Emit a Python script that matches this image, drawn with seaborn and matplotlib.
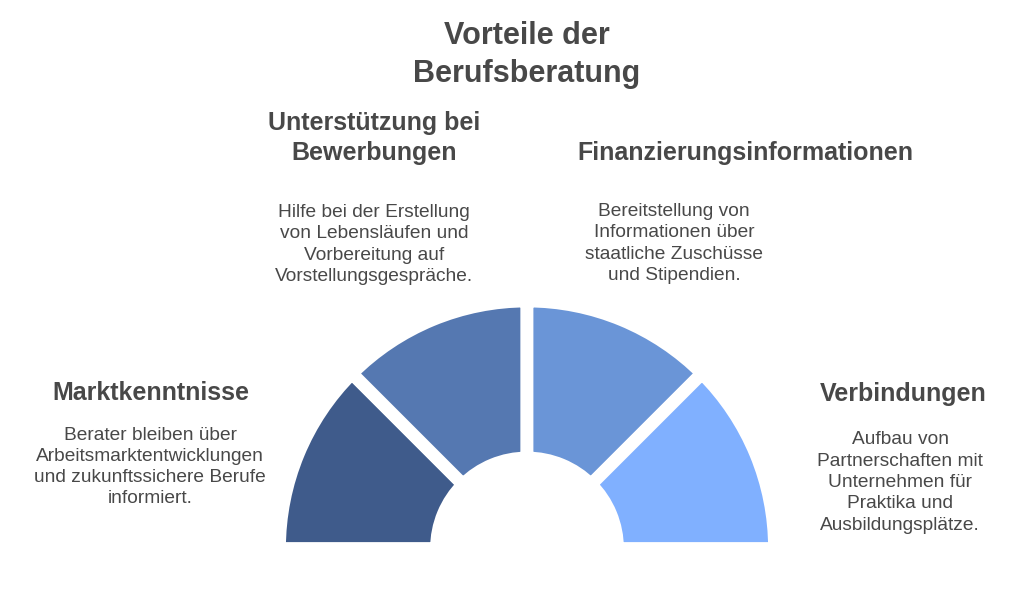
import matplotlib.pyplot as plt
import seaborn as sns

# data
segment_names = ["Marktkenntnisse", "Unterstützung bei\nBewerbungen",
                 "Finanzierungsinformationen", "Verbindungen"]
segment_shares = [1, 1, 1, 1]
segment_colors = ["#3f5b8b", "#5578b1", "#6a95d7", "#80b0ff"]
descriptions = [
    "Berater bleiben über\nArbeitsmarktentwicklungen\nund zukunftssichere Berufe\ninformiert.",
    "Hilfe bei der Erstellung\nvon Lebensläufen und\nVorbereitung auf\nVorstellungsgespräche.",
    "Bereitstellung von\nInformationen über\nstaatliche Zuschüsse\nund Stipendien.",
    "Aufbau von\nPartnerschaften mit\nUnternehmen für\nPraktika und\nAusbildungsplätze.",
]
title = "Vorteile der\nBerufsberatung"

sns.set_theme(style="white")
plt.rcParams["font.family"] = ["Liberation Sans", "DejaVu Sans"]
text_color = "#484848"

W, H = 1024, 603
fig = plt.figure(figsize=(W / 100, H / 100), dpi=100)
ax = fig.add_axes([0, 0, 1, 1])

# half donut: four visible wedges on top, hidden filler for the bottom half
palette = sns.color_palette(segment_colors)
values = segment_shares + [sum(segment_shares)]
wedges, _ = ax.pie(
    values,
    colors=palette + [(1, 1, 1)],
    startangle=180,
    counterclock=False,
    center=(527, H - 548.5),
    radius=247.5,
    wedgeprops=dict(width=157, edgecolor="white", linewidth=9.2),
)
wedges[-1].set_visible(False)

ax.set_xlim(0, W)
ax.set_ylim(0, H)
ax.set_aspect("equal")
ax.axis("off")


def y(px):
    return H - px


ax.text(527, y(55), title, ha="center", va="center", fontsize=22,
        fontweight="bold", color=text_color, linespacing=1.37)

# heading positions (x, y) and description positions (x, y) in pixels
head_pos = [(151, 393), (374, 138), (745, 153), (903, 394)]
desc_pos = [(150, 467), (374, 244.5), (674, 243.5), (900, 482.5)]

for name, (hx, hy) in zip(segment_names, head_pos):
    ax.text(hx, y(hy), name, ha="center", va="center", fontsize=18,
            fontweight="bold", color=text_color, linespacing=1.36)

for desc, (dx, dy) in zip(descriptions, desc_pos):
    ax.text(dx, y(dy), desc, ha="center", va="center", fontsize=13.8,
            color=text_color, linespacing=1.33)

fig.savefig("out.png", dpi=100, facecolor="white")
